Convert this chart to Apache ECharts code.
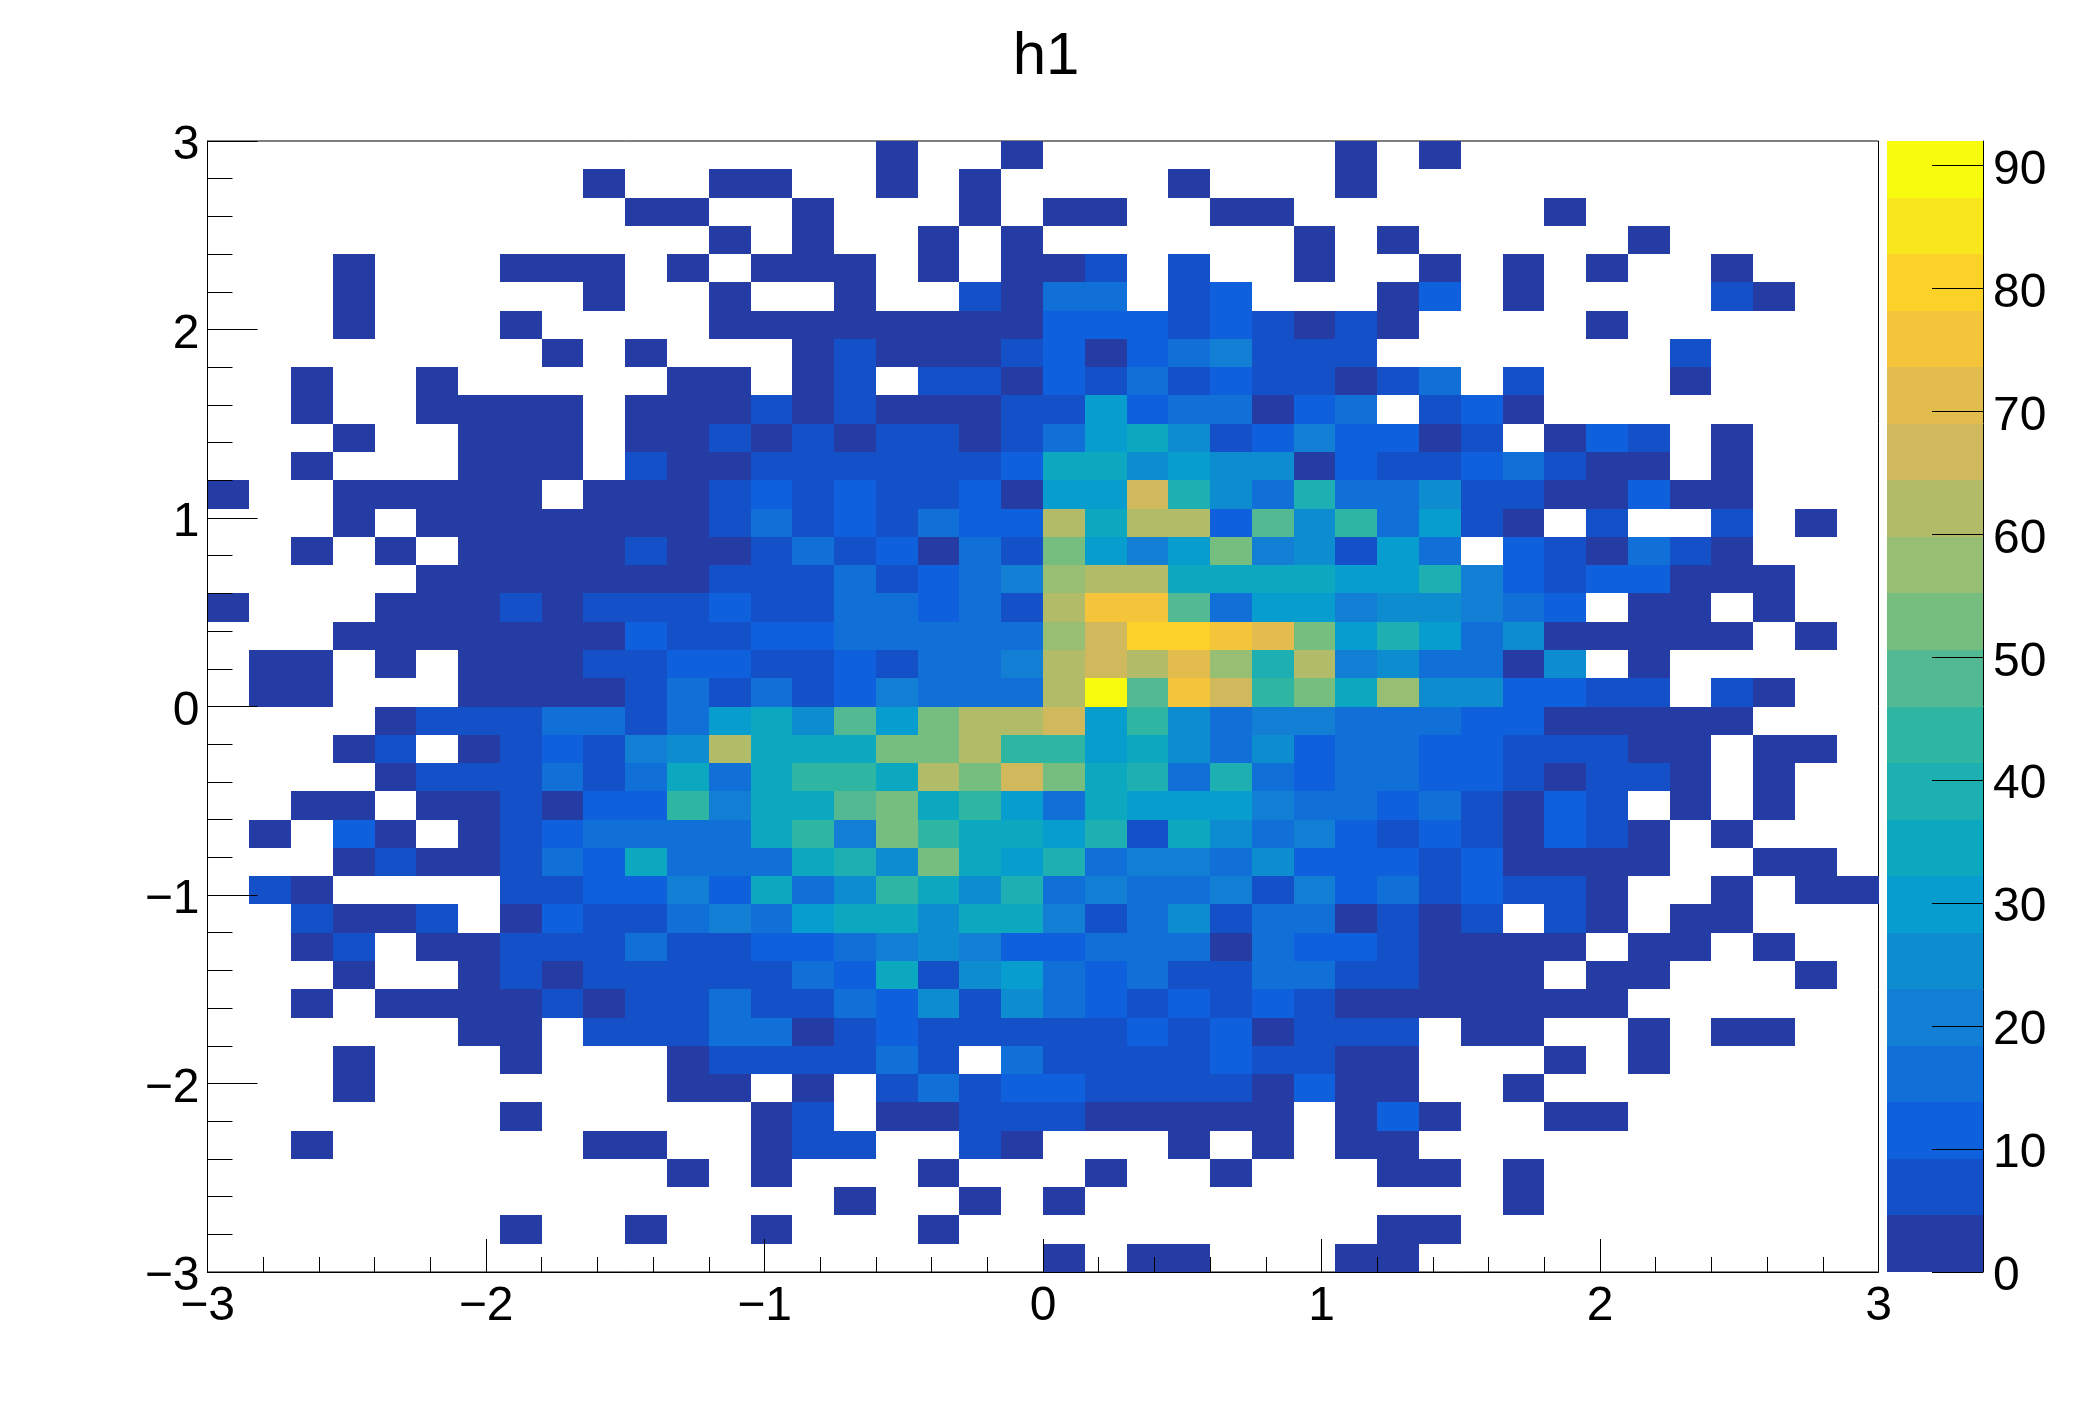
<!DOCTYPE html>
<html><head><meta charset="utf-8">
<style>html,body{margin:0;padding:0;background:#fff}#c{width:2088px;height:1416px}</style>
<script src="https://cdn.jsdelivr.net/npm/echarts@6/dist/echarts.min.js"></script>
</head><body><div id="c"></div>
<script>
const titleText = 'h1';
const xTicks = [-3,-2,-1,0,1,2,3];
const yTicks = [-3,-2,-1,0,1,2,3];
const colorTicks = [0,10,20,30,40,50,60,70,80,90];
const axisMin = -3, axisMax = 3, binWidth = 0.15;
const zMax = 92, levelCount = 20;
const paletteColors = ['#263CA5','#1450C8','#0E60DC','#1070D8','#127FD4','#0D8DD0','#089DCF','#0CA8C0','#1EAFB2','#2EB6A2','#52B992','#76BD80','#96BF74','#B2BC68','#D0B95C','#E2BC4C','#F4C43B','#FDD228','#F9E71E','#F9FB0E'];
const countsByRow = [
[0,0,0,0,0,0,0,0,0,0, 0,0,0,0,0,0,2,0,0,2, 0,0,0,0,0,0,0,2,0,2, 0,0,0,0,0,0,0,0,0,0],
[0,0,0,0,0,0,0,0,0,2, 0,0,2,2,0,0,2,0,2,0, 0,0,0,2,0,0,0,2,0,0, 0,0,0,0,0,0,0,0,0,0],
[0,0,0,0,0,0,0,0,0,0, 2,2,0,0,2,0,0,0,2,0, 2,2,0,0,2,2,0,0,0,0, 0,0,2,0,0,0,0,0,0,0],
[0,0,0,0,0,0,0,0,0,0, 0,0,2,0,2,0,0,2,0,2, 0,0,0,0,0,0,2,0,2,0, 0,0,0,0,2,0,0,0,0,0],
[0,0,0,2,0,0,0,2,2,2, 0,2,0,2,2,2,0,2,0,2, 2,7,0,7,0,0,2,0,0,2, 0,2,0,2,0,0,2,0,0,0],
[0,0,0,2,0,0,0,0,0,2, 0,0,2,0,0,2,0,0,7,2, 16,16,0,7,11,0,0,0,2,11, 0,2,0,0,0,0,7,2,0,0],
[0,0,0,2,0,0,0,2,0,0, 0,0,2,2,2,2,2,2,2,2, 11,11,11,7,11,7,2,7,2,0, 0,0,0,2,0,0,0,0,0,0],
[0,0,0,0,0,0,0,0,2,0, 2,0,0,0,2,7,2,2,2,7, 11,2,11,16,21,7,7,7,0,0, 0,0,0,0,0,7,0,0,0,0],
[0,0,2,0,0,2,0,0,0,0, 0,2,2,0,2,7,0,7,7,2, 11,7,16,7,11,7,7,2,7,16, 0,7,0,0,0,2,0,0,0,0],
[0,0,2,0,0,2,2,2,2,0, 2,2,2,7,2,7,2,2,2,7, 7,30,11,16,16,2,11,16,0,7, 11,2,0,0,0,0,0,0,0,0],
[0,0,0,2,0,0,2,2,2,0, 2,2,7,2,7,2,7,7,2,7, 16,30,34,25,7,11,21,11,11,2, 7,0,2,11,7,0,2,0,0,0],
[0,0,2,0,0,0,2,2,2,0, 7,2,2,7,7,7,7,7,7,11, 34,34,25,30,25,25,2,11,7,7, 11,16,7,2,2,0,2,0,0,0],
[2,0,0,2,2,2,2,2,0,2, 2,2,7,11,7,11,7,7,11,2, 30,30,67,39,25,16,39,16,16,25, 7,7,2,2,11,2,2,0,0,0],
[0,0,0,2,0,2,2,2,2,2, 2,2,7,16,7,11,7,16,11,11, 62,34,62,62,11,48,25,44,16,30, 7,2,0,7,0,0,7,0,2,0],
[0,0,2,0,2,0,2,2,2,2, 7,2,2,7,16,7,11,2,16,7, 53,30,21,30,53,21,25,7,30,16, 0,11,7,2,16,7,2,0,0,0],
[0,0,0,0,0,2,2,2,2,2, 2,2,7,7,7,16,7,11,16,21, 58,62,62,34,34,34,34,30,30,39, 21,11,7,11,11,2,2,2,0,0],
[2,0,0,0,2,2,2,7,2,7, 7,7,11,7,7,16,16,11,16,7, 62,76,76,48,16,30,30,21,25,25, 21,16,11,0,2,2,0,2,0,0],
[0,0,0,2,2,2,2,2,2,2, 11,7,7,11,11,16,16,16,16,16, 58,67,80,80,76,71,53,30,39,30, 16,25,2,2,2,2,2,0,2,0],
[0,2,2,0,2,0,2,2,2,7, 7,11,11,7,7,11,7,16,16,21, 62,67,62,71,58,39,62,21,25,16, 16,2,25,0,2,0,0,0,0,0],
[0,2,2,0,0,0,2,2,2,2, 7,16,7,16,7,11,21,16,16,16, 62,92,48,76,67,44,53,34,58,25, 25,11,11,7,7,0,7,2,0,0],
[0,0,0,0,2,7,7,7,16,16, 7,16,30,34,25,48,30,53,62,62, 67,30,44,25,16,21,21,16,16,16, 11,11,2,2,2,2,2,0,0,0],
[0,0,0,2,7,0,2,7,11,7, 21,25,62,34,34,34,53,53,62,44, 44,30,34,25,16,25,11,16,16,11, 11,7,7,7,2,2,0,2,2,0],
[0,0,0,0,2,7,7,7,16,7, 16,34,16,34,44,44,34,62,53,67, 53,34,39,16,39,16,11,16,16,11, 11,7,2,7,7,2,0,2,0,0],
[0,0,2,2,0,2,2,7,2,11, 11,44,21,34,34,48,53,34,44,30, 16,34,30,30,30,21,16,16,11,16, 7,2,11,7,0,2,0,2,0,0],
[0,2,0,11,2,0,2,7,11,16, 16,16,16,34,44,21,53,44,34,34, 30,39,7,34,25,16,21,11,7,11, 7,2,11,7,2,0,2,0,0,0],
[0,0,0,2,7,2,2,7,16,11, 34,16,16,16,34,39,25,53,34,30, 39,16,21,21,16,25,11,11,11,7, 11,2,2,2,2,0,0,2,2,0],
[0,7,2,0,0,0,0,7,7,11, 11,21,11,34,16,25,44,34,25,39, 16,21,16,16,21,7,21,11,16,7, 11,7,7,2,0,0,2,0,2,2],
[0,0,7,2,2,7,0,2,11,7, 7,16,21,16,30,34,34,25,34,34, 21,7,16,25,7,16,16,2,7,2, 7,0,7,2,0,2,2,0,0,0],
[0,0,2,7,0,2,2,7,7,7, 16,7,7,11,11,16,21,25,21,11, 11,16,16,16,2,16,11,11,7,2, 2,2,2,0,2,2,0,2,0,0],
[0,0,0,2,0,0,2,7,2,7, 7,7,7,7,16,11,34,7,25,30, 16,11,16,7,7,16,16,7,7,2, 2,2,0,2,2,0,0,0,2,0],
[0,0,2,0,2,2,2,2,7,2, 7,7,16,7,7,16,11,25,7,25, 16,11,7,11,7,11,7,2,2,2, 2,2,2,2,0,0,0,0,0,0],
[0,0,0,0,0,0,2,2,0,7, 7,7,16,16,2,7,11,7,7,7, 7,7,11,7,11,2,7,7,7,0, 2,2,0,0,2,0,2,2,0,0],
[0,0,0,2,0,0,0,2,0,0, 0,2,7,7,7,7,16,7,0,16, 7,7,7,7,11,7,7,2,2,0, 0,0,2,0,2,0,0,0,0,0],
[0,0,0,2,0,0,0,0,0,0, 0,2,2,0,2,0,7,16,7,11, 11,7,7,7,7,2,11,2,2,0, 0,2,0,0,0,0,0,0,0,0],
[0,0,0,0,0,0,0,2,0,0, 0,0,0,2,7,0,2,2,7,7, 7,2,2,2,2,2,0,2,11,2, 0,0,2,2,0,0,0,0,0,0],
[0,0,2,0,0,0,0,0,0,2, 2,0,0,2,7,7,0,0,7,2, 0,0,0,2,0,2,0,2,2,0, 0,0,0,0,0,0,0,0,0,0],
[0,0,0,0,0,0,0,0,0,0, 0,2,0,2,0,0,0,2,0,0, 0,2,0,0,2,0,0,0,2,2, 0,2,0,0,0,0,0,0,0,0],
[0,0,0,0,0,0,0,0,0,0, 0,0,0,0,0,2,0,0,2,0, 2,0,0,0,0,0,0,0,0,0, 0,2,0,0,0,0,0,0,0,0],
[0,0,0,0,0,0,0,2,0,0, 2,0,0,2,0,0,0,2,0,0, 0,0,0,0,0,0,0,0,2,2, 0,0,0,0,0,0,0,0,0,0],
[0,0,0,0,0,0,0,0,0,0, 0,0,0,0,0,0,0,0,0,0, 2,0,2,2,0,0,0,2,2,0, 0,0,0,0,0,0,0,0,0,0]
];

const levelWidth = zMax / levelCount;
const colorOf = v => paletteColors[Math.min(levelCount - 1, Math.floor(v / levelWidth))];
const cells = [];
countsByRow.forEach((row, r) => row.forEach((v, c) => {
  if (v > 0) cells.push([axisMin + c * binWidth, axisMin + (c + 1) * binWidth, axisMax - (r + 1) * binWidth, axisMax - r * binWidth, v]);
}));
const bands = paletteColors.map((_, i) => [0, 1, i * levelWidth, (i + 1) * levelWidth, i * levelWidth + 0.01]);

function renderBox(params, api) {
  const a = api.coord([api.value(0), api.value(3)]);
  const b = api.coord([api.value(1), api.value(2)]);
  const x = Math.round(a[0]), y = Math.round(a[1]);
  return { type: 'rect',
    shape: { x, y, width: Math.round(b[0]) - x, height: Math.round(b[1]) - y },
    style: { fill: colorOf(api.value(4)) } };
}
const FONT = '"Liberation Sans", Arial, sans-serif';
const fmt = v => String(v).replace('-', '\u2212');
const chart = echarts.init(document.getElementById('c'), null, { renderer: 'canvas' });
chart.setOption({
  animation: false,
  backgroundColor: '#ffffff',
  title: { text: titleText, left: 1041, top: 22, textAlign: 'center',
    textStyle: { fontFamily: FONT, fontWeight: 'normal', fontSize: 60, color: '#000' } },
  grid: [
    { left: 207.5, top: 141, width: 1671, height: 1131, show: true, borderColor: '#000', borderWidth: 1, backgroundColor: '#fff' },
    { left: 1887, top: 141, width: 96, height: 1131, show: false }
  ],
  xAxis: [
    { type: 'value', gridIndex: 0, min: axisMin, max: axisMax, interval: 1, z: 5, splitLine: { show: false },
      axisLine: { onZero: false, lineStyle: { color: '#000', width: 1 } },
      axisTick: { inside: true, length: 33, customValues: xTicks, lineStyle: { color: '#000', width: 1 } },
      minorTick: { show: true, splitNumber: 5, length: 15, lineStyle: { color: '#000', width: 1 } },
      axisLabel: { customValues: xTicks, formatter: fmt, margin: 11, fontFamily: FONT, fontSize: 48, color: '#000' } },
    { type: 'value', gridIndex: 1, min: 0, max: 1, show: false }
  ],
  yAxis: [
    { type: 'value', gridIndex: 0, min: axisMin, max: axisMax, interval: 1, z: 5, splitLine: { show: false },
      axisLine: { onZero: false, lineStyle: { color: '#000', width: 1 } },
      axisTick: { inside: true, length: 50, customValues: yTicks, lineStyle: { color: '#000', width: 1 } },
      minorTick: { show: true, splitNumber: 5, length: 25, lineStyle: { color: '#000', width: 1 } },
      axisLabel: { customValues: yTicks, formatter: fmt, margin: 8, fontFamily: FONT, fontSize: 48, color: '#000', verticalAlign: 'top', lineHeight: 10 } },
    { type: 'value', gridIndex: 1, position: 'right', min: 0, max: zMax, z: 5, splitLine: { show: false },
      axisLine: { show: true, onZero: false, lineStyle: { color: '#000', width: 1 } },
      axisTick: { inside: true, length: 51, customValues: colorTicks, lineStyle: { color: '#000', width: 1 } },
      axisLabel: { customValues: colorTicks, margin: 10, fontFamily: FONT, fontSize: 48, color: '#000', verticalAlign: 'top', lineHeight: 10 } }
  ],
  series: [
    { type: 'custom', xAxisIndex: 0, yAxisIndex: 0, renderItem: renderBox, data: cells, encode: { x: [0, 1], y: [2, 3] }, clip: true, silent: true },
    { type: 'custom', xAxisIndex: 1, yAxisIndex: 1, renderItem: renderBox, data: bands, encode: { x: [0, 1], y: [2, 3] }, clip: true, silent: true }
  ]
});
</script></body></html>
